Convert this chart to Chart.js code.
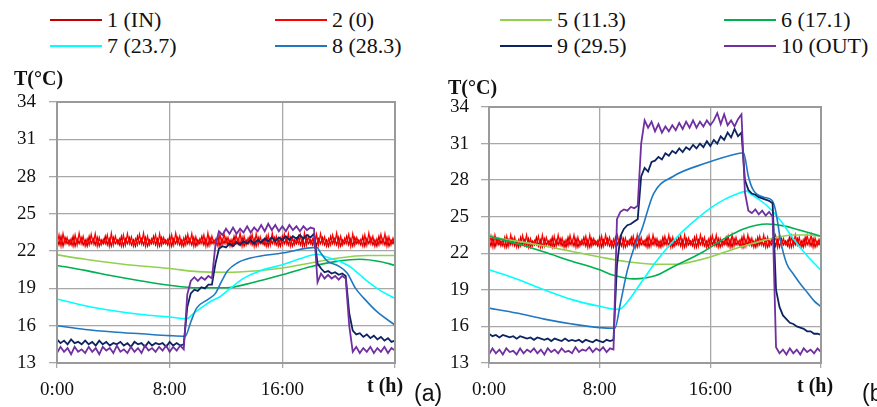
<!DOCTYPE html>
<html>
<head>
<meta charset="utf-8">
<script src="https://cdn.jsdelivr.net/npm/chart.js@4.4.1/dist/chart.umd.min.js"></script>
<style>
body{margin:0;background:#fff;}
#wrap{position:relative;width:877px;height:407px;overflow:hidden;font-family:"Liberation Serif","Times New Roman",Times,serif;color:#111;}
canvas{position:absolute;}
.lbl{position:absolute;white-space:nowrap;line-height:1;}
.leg{position:absolute;white-space:nowrap;font-size:22px;line-height:22px;}
.leg i{position:absolute;height:2px;top:10px;}
</style>
</head>
<body>
<div id="wrap">
  <canvas id="chartA" width="450" height="337" style="left:0;top:70px"></canvas>
  <canvas id="chartB" width="432" height="337" style="left:445px;top:70px"></canvas>
</div>
<script>
// series names / colours (legend order)
const seriesNames = ['1 (IN)','2 (0)','5 (11.3)','6 (17.1)','7 (23.7)','8 (28.3)','9 (29.5)','10 (OUT)'];
const seriesColors = ['#c00000','#ff0000','#92d050','#00b050','#00ffff','#1f78c1','#0d2461','#7030a0'];
const xTicks = [0, 8, 16, 24];
const xTickLabels = ['0:00','8:00','16:00',''];
const serifStack = '"Liberation Serif", "Times New Roman", Times, serif';

// sampling grids (hours): red logger every 1/7 h, sensors 9/10 every 15 min
const hours7 = Array.from({length:169}, (_,i)=> i/7);
const hours4 = Array.from({length:97}, (_,i)=> i/4);

// ---------- panel (a) ----------
const redInA = [
 23.0,22.5,23.2,22.4,23.1,22.6,22.9,22.5,23.2,22.4,23.0,22.6,23.1,22.5,
 22.9,22.4,23.2,22.6,23.0,22.5,23.1,22.4,22.9,22.6,23.2,22.5,23.0,22.4,
 23.1,22.6,22.9,22.5,23.2,22.4,23.0,22.6,23.1,22.5,22.9,22.4,23.2,22.6,
 23.0,22.5,23.1,22.4,22.9,22.6,23.2,22.5,23.0,22.4,23.1,22.6,22.9,22.5,
 23.2,22.4,23.0,22.6,23.1,22.5,22.9,22.4,23.2,22.6,23.0,22.5,23.1,22.4,
 22.9,22.6,23.2,22.5,23.0,22.4,23.1,22.6,22.9,22.5,23.2,22.4,23.0,22.6,
 23.1,22.5,22.9,22.4,23.2,22.6,23.0,22.5,23.1,22.4,22.9,22.6,23.2,22.5,
 23.0,22.4,23.1,22.6,22.9,22.5,23.2,22.4,23.0,22.6,23.1,22.5,22.9,22.4,
 23.2,22.6,23.0,22.5,23.1,22.4,22.9,22.6,23.2,22.5,23.0,22.4,23.1,22.6,
 22.9,22.5,23.2,22.4,23.0,22.6,23.1,22.5,22.9,22.4,23.2,22.6,23.0,22.5,
 23.1,22.4,22.9,22.6,23.2,22.5,23.0,22.4,23.1,22.6,22.9,22.5,23.2,22.4,
 23.0,22.6,23.1,22.5,22.9,22.4,23.2,22.6,23.0,22.5,23.1,22.4,22.9,22.6,
 23.0];
const redZeroA = [
 22.5,23.3,22.4,23.4,22.6,23.1,22.5,23.0,22.4,23.3,22.5,23.45,22.6,23.2,
 22.4,23.0,22.5,23.35,22.6,23.4,22.4,23.1,22.5,22.95,22.6,23.3,22.4,23.45,
 22.5,23.2,22.6,23.0,22.4,23.3,22.5,23.4,22.6,23.15,22.4,23.0,22.5,23.35,
 22.6,23.45,22.4,23.2,22.5,23.0,22.6,23.3,22.4,23.4,22.5,23.1,22.6,22.95,
 22.4,23.3,22.5,23.45,22.6,23.2,22.4,23.05,22.5,23.35,22.6,23.4,22.4,23.15,
 22.5,23.0,22.6,23.3,22.4,23.45,22.5,23.2,22.6,23.0,22.4,23.35,22.5,23.4,
 22.6,23.1,22.4,22.95,22.5,23.3,22.6,23.45,22.4,23.2,22.5,23.05,22.6,23.35,
 22.4,23.4,22.5,23.15,22.6,23.0,22.4,23.3,22.5,23.45,22.6,23.2,22.4,23.05,
 22.5,23.35,22.6,23.4,22.4,23.1,22.5,22.95,22.6,23.3,22.4,23.45,22.5,23.2,
 22.6,23.0,22.4,23.35,22.5,23.4,22.6,23.15,22.4,23.0,22.5,23.3,22.6,23.45,
 22.4,23.2,22.5,23.05,22.6,23.35,22.4,23.4,22.5,23.1,22.6,22.95,22.4,23.3,
 22.5,23.45,22.6,23.2,22.4,23.0,22.5,23.35,22.6,23.4,22.4,23.15,22.5,23.05,
 22.6];
const lightGreenA = [[0,21.7],[2,21.35],[4,21.05],[6,20.8],[8,20.6],[10,20.35],[12,20.3],[14,20.4],[16,20.65],[18,21.05],[20,21.45],[22,21.65],[24,21.65]];
const greenA = [[0,20.85],[2,20.45],[4,20.0],[6,19.6],[8,19.25],[10,19.05],[12,19.05],[14,19.5],[16,20.1],[18,20.75],[20,21.2],[21.5,21.35],[23,21.15],[24,20.85]];
const cyanA = [[0,18.15],[2,17.6],[4,17.2],[6,16.9],[8,16.7],[9.2,16.55],[9.7,17.0],[10.2,17.4],[10.9,17.95],[11.6,18.35],[12.3,19.0],[13.3,19.85],[14.5,20.45],[16,20.9],[17.3,21.4],[18.5,21.75],[19.2,21.5],[20,21.2],[20.8,20.75],[21.5,20.1],[22,19.6],[23,18.8],[24,18.2]];
const blueA = [[0,16.0],[2,15.7],[4,15.5],[6,15.35],[8,15.2],[9.1,15.15],[9.5,16.3],[9.9,17.4],[10.7,18.1],[11.25,18.6],[11.7,19.6],[12.1,20.4],[12.8,21.05],[13.75,21.45],[16,21.85],[18.45,22.3],[18.7,21.9],[19.2,21.2],[20.0,20.8],[20.6,20.25],[21.2,19.0],[21.8,18.2],[22.7,17.15],[24,16.05]];
const navyA = [
 14.9,14.6,14.8,14.5,14.9,14.6,14.7,14.5,14.8,14.5,14.7,14.4,14.8,14.5,14.7,14.4,14.6,14.5,14.7,14.4,
 14.6,14.3,14.7,14.5,14.6,14.3,14.7,14.4,14.6,14.5,14.6,14.3,14.7,14.4,14.6,14.4,14.5,
 17.5,18.6,18.9,18.8, 19.1,19.0,19.3,19.3, 21.0,22.2,22.4,22.3, 22.6,22.4,22.7,22.5,
 22.8,22.6,22.9,22.6, 22.9,22.7,23.0,22.8, 23.1,22.8,23.1,22.9, 23.2,22.9,23.2,23.0,
 23.3,23.0,23.3,23.1, 23.4,21.0,20.6,20.3, 20.4,20.2,20.3,20.1, 20.2,20.0,17.0,15.6,
 15.3,15.4,15.1,15.3, 15.0,15.2,14.9,15.1, 14.8,15.0,14.7,14.8];
const purpleA = [
 13.8,14.3,13.9,14.2,13.7,14.3,13.9,14.1,13.8,14.3,13.9,14.2,13.7,14.3,14.0,14.2,13.8,14.4,13.9,14.1,
 13.8,14.3,13.9,14.2,13.8,14.4,14.0,14.2,13.9,14.3,14.0,14.4,13.9,14.3,14.0,14.4,14.1,
 18.5,19.6,19.9,19.6, 19.9,19.7,20.0,19.8, 22.5,23.6,23.3,23.8, 23.4,23.9,23.4,23.8,
 23.5,24.0,23.5,23.9, 23.6,24.1,23.6,24.2, 23.7,24.1,23.6,24.0, 23.6,24.1,23.7,24.0,
 23.6,24.0,23.7,23.9, 23.8,19.5,20.2,19.8, 20.1,19.8,20.0,19.7, 20.0,19.8,16.0,13.9,
 14.3,13.8,14.2,13.9, 14.3,13.8,14.2,13.9, 14.3,13.8,14.2,14.0];

// ---------- panel (b) ----------
const redInB = [
 23.1,22.6,23.3,22.5,23.2,22.7,23.0,22.6,23.3,22.5,23.1,22.7,23.2,22.6,
 23.0,22.5,23.3,22.7,23.1,22.6,23.2,22.5,23.0,22.7,23.3,22.6,23.1,22.5,
 23.2,22.7,23.0,22.6,23.3,22.5,23.1,22.7,23.2,22.6,23.0,22.5,23.3,22.7,
 23.1,22.6,23.2,22.5,23.0,22.7,23.3,22.6,23.1,22.5,23.2,22.7,23.0,22.6,
 23.3,22.5,23.1,22.7,23.2,22.6,23.0,22.5,23.3,22.7,23.1,22.6,23.2,22.5,
 23.0,22.7,23.3,22.6,23.1,22.5,23.2,22.7,23.0,22.6,23.3,22.5,23.1,22.7,
 23.2,22.6,23.0,22.5,23.3,22.7,23.1,22.6,23.2,22.5,23.0,22.7,23.3,22.6,
 23.1,22.5,23.2,22.7,23.0,22.6,23.3,22.5,23.1,22.7,23.2,22.6,23.0,22.5,
 23.3,22.7,23.1,22.6,23.2,22.5,23.0,22.7,23.3,22.6,23.1,22.5,23.2,22.7,
 23.0,22.6,23.3,22.5,23.1,22.7,23.2,22.6,23.0,22.5,23.3,22.7,23.1,22.6,
 23.2,22.5,23.0,22.7,23.3,22.6,23.1,22.5,23.2,22.7,23.0,22.6,23.3,22.5,
 23.1,22.7,23.2,22.6,23.0,22.5,23.3,22.7,23.1,22.6,23.2,22.5,23.0,22.7,
 23.1];
const redZeroB = [
 22.6,23.4,22.5,23.5,22.7,23.2,22.6,23.1,22.5,23.4,22.6,23.5,22.7,23.3,
 22.5,23.1,22.6,23.45,22.7,23.5,22.5,23.2,22.6,23.05,22.7,23.4,22.5,23.5,
 22.6,23.3,22.7,23.1,22.5,23.4,22.6,23.5,22.7,23.25,22.5,23.1,22.6,23.45,
 22.7,23.5,22.5,23.3,22.6,23.1,22.7,23.4,22.5,23.5,22.6,23.2,22.7,23.05,
 22.5,23.4,22.6,23.5,22.7,23.3,22.5,23.15,22.6,23.45,22.7,23.5,22.5,23.25,
 22.6,23.1,22.7,23.4,22.5,23.5,22.6,23.3,22.7,23.1,22.5,23.45,22.6,23.5,
 22.7,23.2,22.5,23.05,22.6,23.4,22.7,23.5,22.5,23.3,22.6,23.15,22.7,23.45,
 22.5,23.5,22.6,23.25,22.7,23.1,22.5,23.4,22.6,23.5,22.7,23.3,22.5,23.15,
 22.6,23.45,22.7,23.5,22.5,23.2,22.6,23.05,22.7,23.4,22.5,23.5,22.6,23.3,
 22.7,23.1,22.5,23.45,22.6,23.5,22.7,23.25,22.5,23.1,22.6,23.4,22.7,23.5,
 22.5,23.3,22.6,23.15,22.7,23.45,22.5,23.5,22.6,23.2,22.7,23.05,22.5,23.4,
 22.6,23.5,22.7,23.3,22.5,23.1,22.6,23.45,22.7,23.5,22.5,23.25,22.6,23.15,
 22.7];
const lightGreenB = [[0,23.35],[2,23.0],[4,22.6],[6,22.15],[8,21.7],[10,21.3],[12,21.1],[13.5,21.1],[15,21.4],[16,21.7],[18,22.45],[20,23.1],[22,23.5],[23,23.5],[24,23.4]];
const greenB = [[0,23.4],[2,22.8],[4,22.1],[6,21.35],[8,20.65],[9,20.2],[10.5,19.9],[12,20.15],[13.5,21.0],[15.3,22.0],[17,23.2],[18.4,24.0],[20.1,24.4],[21.3,24.25],[22.75,23.8],[24,23.4]];
const cyanB = [[0,20.65],[2,19.9],[4,19.0],[6,18.2],[8,17.65],[9.4,17.4],[10,18.0],[11,19.6],[12,21.2],[13,22.6],[14,23.8],[15,24.8],[16,25.7],[17,26.4],[18,26.9],[18.6,27.1],[19,26.8],[20,26.0],[21,24.8],[22,23.2],[23,21.8],[24,20.6]];
const blueB = [[0,17.5],[2,17.1],[4,16.6],[6,16.2],[8,15.9],[9.1,15.85],[9.5,17.9],[10,20.6],[10.5,22.5],[11,23.8],[11.9,26.9],[13.3,28.3],[15.7,29.4],[18.1,30.2],[18.4,30.25],[18.75,28.3],[19.1,27.2],[19.85,26.6],[20.45,26.35],[20.7,25.6],[20.9,24.3],[21.05,23.2],[21.5,21.2],[22,20.3],[22.5,19.5],[23,18.8],[23.5,18.1],[24,17.6]];
const navyB = [
 15.4,15.2,15.3,15.1,15.3,15.2,15.1,15.2,15.0,15.2,15.1,15.0,15.1,14.9,15.1,15.0,14.9,15.0,14.8,15.0,
 14.9,14.8,15.0,14.8,14.9,14.8,14.9,14.7,14.9,14.8,14.7,14.9,14.8,14.7,14.9,14.8,14.9,
 21.0,23.4,24.0,24.3, 24.4,24.6,24.8,28.3, 29.0,28.7,29.5,29.6, 29.9,29.7,30.2,30.0,
 30.4,30.2,30.6,30.3, 30.7,30.5,30.9,30.6, 31.0,30.7,31.2,30.8, 31.3,31.0,31.6,31.3,
 31.9,31.5,32.2,31.6, 31.9,28.0,27.2,26.9, 26.8,26.6,26.5,26.4, 26.3,26.1,19.0,17.6,
 16.9,16.6,16.3,16.2, 16.0,15.9,15.8,15.6, 15.6,15.4,15.4,15.3];
const purpleB = [
 13.7,14.2,13.8,14.1,13.7,14.2,13.9,14.0,13.7,14.2,13.8,14.1,13.9,14.2,13.8,14.1,13.7,14.2,13.9,14.1,
 13.8,14.2,13.9,14.0,13.8,14.3,13.9,14.1,14.0,14.3,13.9,14.2,14.0,14.3,13.9,14.2,14.1,
 24.8,25.4,25.6,25.5, 25.8,25.7,25.9,31.0, 32.9,32.3,32.8,32.0, 32.6,31.9,32.4,32.0,
 32.5,32.1,32.7,32.2, 32.8,32.3,32.9,32.3, 32.8,32.4,32.9,32.5, 32.9,33.5,32.6,33.4,
 32.5,32.9,32.4,33.0, 33.4,27.0,25.5,25.3, 25.6,25.2,25.5,25.1, 25.4,25.0,14.3,13.8,
 14.1,13.7,14.2,13.8, 14.1,13.7,14.2,13.9, 14.1,13.8,14.2,13.9];

function fromGrid(grid, vals){ return vals.map((v,i)=>({x:grid[i], y:v})); }
function fromPairs(pairs){ return pairs.map(p=>({x:p[0], y:p[1]})); }

const frame = {
  id:'frame',
  afterDatasetsDraw(c){
    const a=c.chartArea, ctx=c.ctx;
    ctx.save(); ctx.strokeStyle='#9a9a9a'; ctx.lineWidth=2;
    ctx.strokeRect(a.left,a.top,a.right-a.left,a.bottom-a.top); ctx.restore();
  }
};

function buildPanel(id, series, box){
  const datasets = series.map((s,i)=>({
    label: seriesNames[i], data: s.data,
    borderColor: seriesColors[i], backgroundColor: seriesColors[i],
    borderWidth: i<2 ? 1.3 : (i>5 ? 1.8 : 1.6), pointRadius: 0, fill: false,
    tension: 0, cubicInterpolationMode: s.smooth ? 'monotone' : 'default',
    order: 7 - i
  }));
  const tickFont = {family: serifStack, size:19};
  return new Chart(document.getElementById(id), {
    type:'line',
    data:{datasets},
    plugins:[frame],
    options:{
      responsive:false, animation:false, parsing:false, normalized:true,
      layout:{padding:{left:0, top:box.top, right:box.right, bottom:0}},
      plugins:{legend:{display:false}, tooltip:{enabled:false}},
      scales:{
        x:{type:'linear', min:0, max:24,
           afterBuildTicks(s){ s.ticks = xTicks.map(v=>({value:v})); },
           afterFit(s){ s.height = 44; },
           ticks:{callback:v=> xTickLabels[xTicks.indexOf(v)], font:tickFont, color:'#111', padding:11, maxRotation:0, autoSkip:false},
           grid:{color:'#a8a8a8', lineWidth:1.3, tickLength:5},
           border:{color:'#9a9a9a', width:2}},
        y:{min:13, max:34,
           afterFit(s){ s.width = box.left; },
           ticks:{stepSize:3, font:tickFont, color:'#111', padding:box.pad},
           grid:{color:'#a8a8a8', lineWidth:1.3, tickLength:8},
           border:{color:'#9a9a9a', width:2}}
      }
    }
  });
}

buildPanel('chartA', [
  {data: fromGrid(hours7, redInA)}, {data: fromGrid(hours7, redZeroA)},
  {data: fromPairs(lightGreenA), smooth:true}, {data: fromPairs(greenA), smooth:true},
  {data: fromPairs(cyanA), smooth:true}, {data: fromPairs(blueA), smooth:true},
  {data: fromGrid(hours4, navyA)}, {data: fromGrid(hours4, purpleA)}
], {left:57, top:32, right:55, pad:13});

buildPanel('chartB', [
  {data: fromGrid(hours7, redInB)}, {data: fromGrid(hours7, redZeroB)},
  {data: fromPairs(lightGreenB), smooth:true}, {data: fromPairs(greenB), smooth:true},
  {data: fromPairs(cyanB), smooth:true}, {data: fromPairs(blueB), smooth:true},
  {data: fromGrid(hours4, navyB)}, {data: fromGrid(hours4, purpleB)}
], {left:44, top:37, right:56, pad:12});

// legend (4 columns x 2 rows) and axis captions as html text
const wrap = document.getElementById('wrap');
const legendCols = [50, 275, 500, 724];
const legendRows = [9, 35];
seriesNames.forEach((name,i)=>{
  const d = document.createElement('div'); d.className='leg';
  d.style.left = legendCols[i%4]+'px'; d.style.top = legendRows[Math.floor(i/4)]+'px';
  d.style.paddingLeft = '57px';
  d.innerHTML = `<i style="left:0;width:52px;background:${seriesColors[i]}"></i>${name}`;
  wrap.appendChild(d);
});
const captions = [
  {t:'T(°C)', x:14, y:68, css:'font-weight:bold;font-size:20px'},
  {t:'T(°C)', x:448, y:77, css:'font-weight:bold;font-size:20px'},
  {t:'t (h)', x:367, y:375, css:'font-weight:bold;font-size:20px'},
  {t:'t (h)', x:797, y:375, css:'font-weight:bold;font-size:20px'},
  {t:'(a)', x:414, y:382, css:'font-family:"Liberation Sans",Arial,sans-serif;font-size:23px'},
  {t:'(b)', x:862, y:382, css:'font-family:"Liberation Sans",Arial,sans-serif;font-size:23px'}
];
captions.forEach(c=>{
  const d = document.createElement('div'); d.className='lbl';
  d.style.cssText += `left:${c.x}px;top:${c.y}px;${c.css}`;
  d.textContent = c.t; wrap.appendChild(d);
});
</script>
</body>
</html>
